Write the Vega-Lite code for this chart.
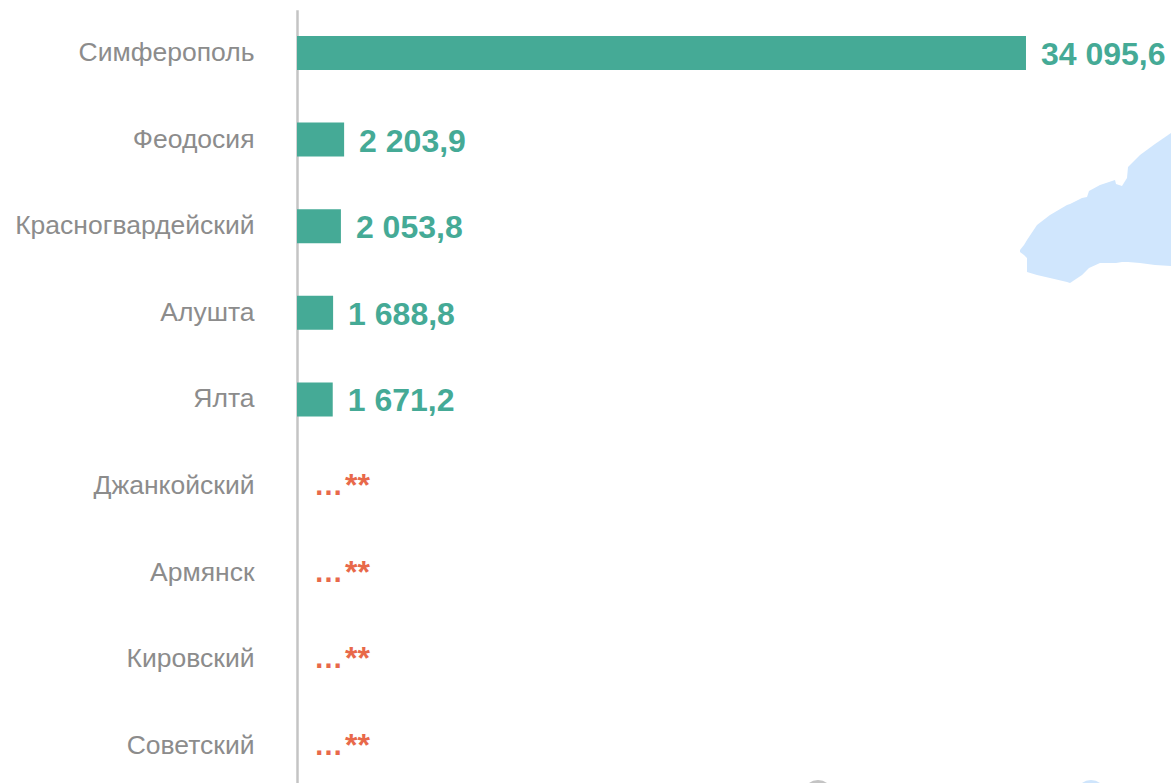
{"$schema":"https://vega.github.io/schema/vega-lite/v6.json","width":874,"height":783,"autosize":"none","padding":{"left":297,"top":0,"right":0,"bottom":0},"background":"#ffffff","view":{"stroke":null},"config":{"font":"Liberation Sans"},
"datasets":{"cities":[{"city":"Симферополь","value":34095.6,"label":"34 095,6"},{"city":"Феодосия","value":2203.9,"label":"2 203,9"},{"city":"Красногвардейский","value":2053.8,"label":"2 053,8"},{"city":"Алушта","value":1688.8,"label":"1 688,8"},{"city":"Ялта","value":1671.2,"label":"1 671,2"}],
"hidden":[{"city":"Джанкойский","value":0,"dots":"…","stars":"**"},{"city":"Армянск","value":0,"dots":"…","stars":"**"},{"city":"Кировский","value":0,"dots":"…","stars":"**"},{"city":"Советский","value":0,"dots":"…","stars":"**"}],
"map":[{"mx":723,"top":250,"bottom":252},{"mx":727,"top":245,"bottom":255},{"mx":730,"top":240,"bottom":258},{"mx":730,"top":240,"bottom":272},{"mx":740,"top":225,"bottom":275},{"mx":753,"top":215,"bottom":278},{"mx":770,"top":205,"bottom":282},{"mx":773,"top":204,"bottom":283},{"mx":785,"top":198,"bottom":275},{"mx":790,"top":197,"bottom":270},{"mx":792,"top":191,"bottom":268},{"mx":803,"top":185,"bottom":263},{"mx":818,"top":180,"bottom":263},{"mx":819,"top":184,"bottom":263},{"mx":825,"top":186,"bottom":262},{"mx":830,"top":178,"bottom":262},{"mx":831,"top":167,"bottom":262},{"mx":843,"top":155,"bottom":263},{"mx":858,"top":144,"bottom":265},{"mx":874,"top":133,"bottom":266}],
"spots":[{"mx":521,"my":795,"kind":"grey"},{"mx":794,"my":795,"kind":"blue"}]},
"layer":[
{"layer":[
{"data":{"name":"map"},"mark":{"type":"area","color":"#d0e6fd","clip":false},"encoding":{"x":{"field":"mx","type":"quantitative","scale":{"domain":[0,874],"nice":false},"axis":null},"y":{"field":"top","type":"quantitative","scale":{"domain":[0,783],"range":[0,783],"nice":false,"zero":false},"axis":null},"y2":{"field":"bottom"},"order":{"value":0}}},
{"data":{"name":"spots"},"mark":{"type":"point","filled":true,"opacity":1,"size":900},"encoding":{"x":{"field":"mx","type":"quantitative","axis":null},"y":{"field":"my","type":"quantitative","axis":null},"color":{"field":"kind","type":"nominal","scale":{"domain":["grey","blue"],"range":["#c4c4c4","#cfe5fc"]},"legend":null}}}
]},
{"layer":[
{"data":{"name":"cities"},"mark":{"type":"bar","color":"#45aa96","size":34},"encoding":{"x":{"field":"value","type":"quantitative","scale":{"domain":[0,40878],"nice":false},"axis":null},"y":{"field":"city","type":"nominal","sort":["Симферополь","Феодосия","Красногвардейский","Алушта","Ялта","Джанкойский","Армянск","Кировский","Советский"],"scale":{"domain":["Симферополь","Феодосия","Красногвардейский","Алушта","Ялта","Джанкойский","Армянск","Кировский","Советский"],"range":[9.7,789.1]},"axis":{"orient":"left","title":null,"ticks":false,"grid":false,"domain":true,"domainColor":"#c4c4c4","domainWidth":2.5,"labelColor":"#8c8c8c","labelFontSize":26.5,"labelFont":"Liberation Sans","labelPadding":43,"labelLimit":290}}}},
{"data":{"name":"cities"},"mark":{"type":"text","align":"left","baseline":"middle","dx":15,"dy":2,"fontSize":32,"fontWeight":"bold","color":"#45aa96"},"encoding":{"x":{"field":"value","type":"quantitative"},"y":{"field":"city","type":"nominal"},"text":{"field":"label"}}},
{"data":{"name":"hidden"},"mark":{"type":"text","align":"left","baseline":"middle","dx":17,"dy":0,"fontSize":29,"fontWeight":"bold","color":"#e8694a"},"encoding":{"x":{"field":"value","type":"quantitative"},"y":{"field":"city","type":"nominal"},"text":{"field":"dots"}}},
{"data":{"name":"hidden"},"mark":{"type":"text","align":"left","baseline":"middle","dx":48,"dy":0,"fontSize":32,"fontWeight":"bold","color":"#e8694a"},"encoding":{"x":{"field":"value","type":"quantitative"},"y":{"field":"city","type":"nominal"},"text":{"field":"stars"}}}
]}
],"resolve":{"scale":{"x":"independent","y":"independent","color":"independent"}}}
